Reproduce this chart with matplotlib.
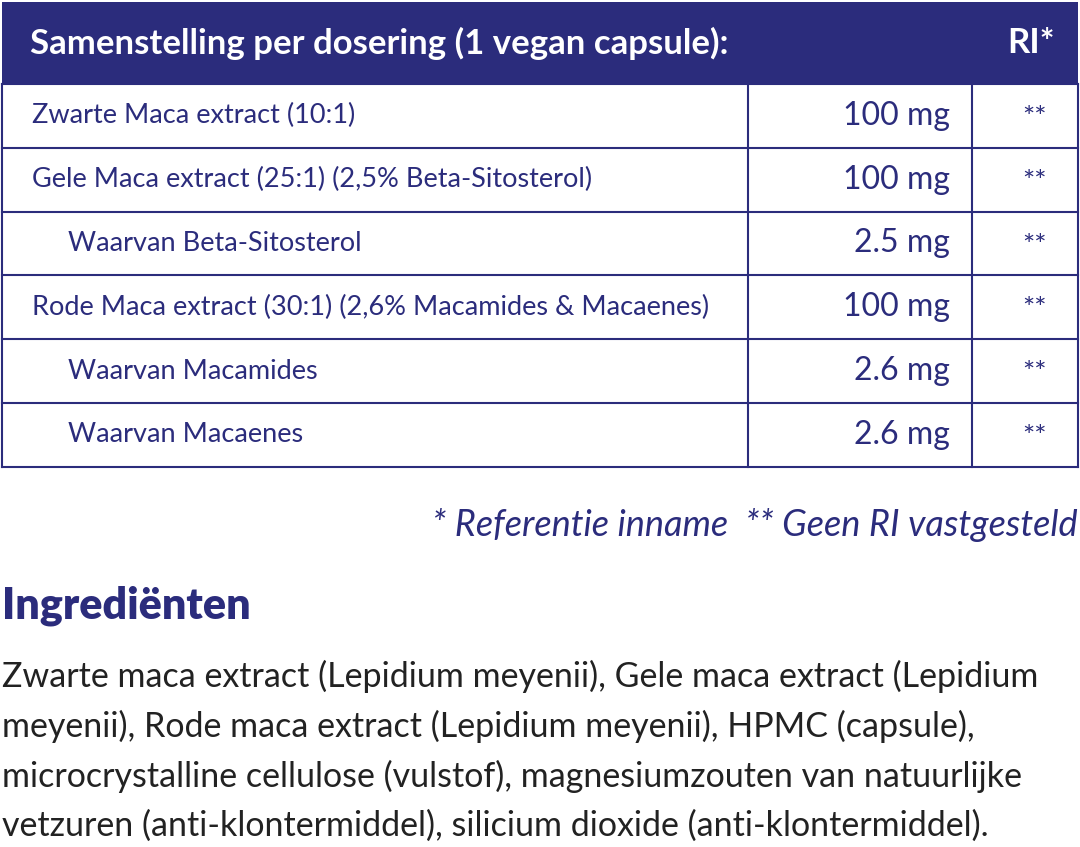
import matplotlib
matplotlib.use("Agg")
import matplotlib.pyplot as plt

header = "Samenstelling per dosering (1 vegan capsule):"
ri_header = "RI*"
names = ["Zwarte Maca extract (10:1)",
         "Gele Maca extract (25:1) (2,5% Beta-Sitosterol)",
         "Waarvan Beta-Sitosterol",
         "Rode Maca extract (30:1) (2,6% Macamides & Macaenes)",
         "Waarvan Macamides",
         "Waarvan Macaenes"]
indent = [0, 0, 1, 0, 1, 1]
amounts = ["100 mg", "100 mg", "2.5 mg", "100 mg", "2.6 mg", "2.6 mg"]
ri = ["**"] * 6
footnote = "* Referentie inname  ** Geen RI vastgesteld"
ingr_title = "Ingrediënten"
ingr_lines = ["Zwarte maca extract (Lepidium meyenii), Gele maca extract (Lepidium",
              "meyenii), Rode maca extract (Lepidium meyenii), HPMC (capsule),",
              "microcrystalline cellulose (vulstof), magnesiumzouten van natuurlijke",
              "vetzuren (anti-klontermiddel), silicium dioxide (anti-klontermiddel)."]

navy = "#2b2c7c"
fam = ["Lato", "DejaVu Sans"]

fig = plt.figure(figsize=(10.8, 8.47), dpi=100)
ax = fig.add_axes([0, 0, 1, 1])
ax.set_xlim(0, 1080); ax.set_ylim(847, 0); ax.axis("off")

ax.add_patch(plt.Rectangle((2, 2), 1076, 81, color=navy, lw=0))
ax.text(30, 43, header, color="white", fontsize=25, fontweight="bold", family=fam, va="center")
ax.text(1055, 43, ri_header, color="white", fontsize=25, fontweight="bold", family=fam, va="center", ha="right")

top, rh = 84, 63.8
n = len(names)
for i in range(n + 1):
    ax.plot([2, 1078], [top + i * rh] * 2, color=navy, lw=1.5)
bottom = top + n * rh
for x in [2, 748, 972, 1078]:
    ax.plot([x, x], [top, bottom], color=navy, lw=1.5)
for i in range(n):
    yc = top + (i + 0.5) * rh
    ax.text(32 + 36 * indent[i], yc, names[i], color=navy, fontsize=19.5, family=fam, va="center")
    ax.text(950, yc, amounts[i], color=navy, fontsize=23, family=fam, va="center", ha="right")
    ax.text(1035, yc + 3, ri[i], color=navy, fontsize=21, family=fam, va="center", ha="center")

ax.text(1078, 525, footnote, color=navy, fontsize=26, family=fam, style="italic", va="center", ha="right")
ax.text(2, 606, ingr_title, color=navy, fontsize=31, fontweight="heavy", family=fam, va="center")
for k, line in enumerate(ingr_lines):
    ax.text(2, 676 + 50 * k, line, color="#222222", fontsize=24.5, family=fam, va="center")

fig.savefig("out.png", dpi=100)
